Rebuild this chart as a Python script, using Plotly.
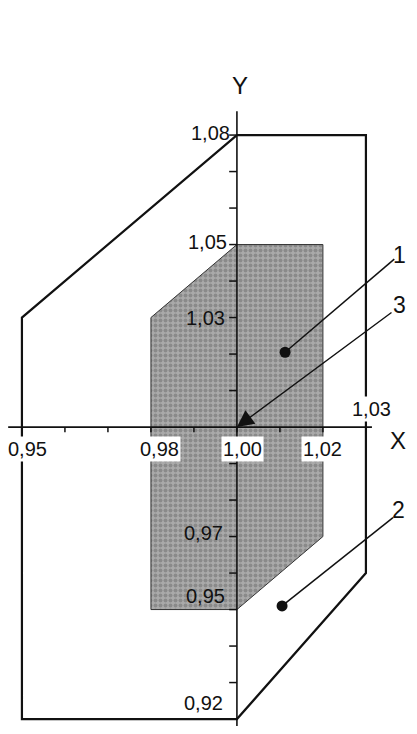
"""Области допусков X/Y: внешний контур (2), заштрихованная зона (1), номинал (3)."""
import plotly.graph_objects as go

# --- данные ---
outer_x = [1.00, 1.03, 1.03, 1.00, 0.95, 0.95, 1.00]
outer_y = [1.08, 1.08, 0.96, 0.92, 0.92, 1.03, 1.08]

inner_x = [1.00, 1.02, 1.02, 1.00, 0.98, 0.98, 1.00]
inner_y = [1.05, 1.05, 0.97, 0.95, 0.95, 1.03, 1.05]

x_ticks = [0.95, 0.96, 0.97, 0.98, 0.99, 1.00, 1.01, 1.02, 1.03]
y_ticks = [0.92, 0.93, 0.94, 0.95, 0.96, 0.97, 0.98, 0.99,
           1.01, 1.02, 1.03, 1.04, 1.05, 1.06, 1.07, 1.08]

x_labels = {0.95: "0,95", 0.98: "0,98", 1.00: "1,00", 1.02: "1,02", 1.03: "1,03"}
y_labels = {1.08: "1,08", 1.05: "1,05", 1.03: "1,03", 0.97: "0,97", 0.95: "0,95", 0.92: "0,92"}

x_axis_span = [0.9468, 1.0314]
y_axis_span = [0.9181, 1.0865]

# выноски: номер, точка-маркер, конец линии, позиция номера (правый край)
callouts = [
    ("1", (1.0112, 1.0205), (1.0366, 1.0460), (1.0397, 1.0471)),
    ("2", (1.0105, 0.9510), (1.0363, 0.9752), (1.0395, 0.9773)),
]
arrow_3 = ("3", (1.00, 1.00), (1.0363, 1.0317), (1.0397, 1.0334))

FONT = "Liberation Sans, Arial, sans-serif"
INK = "#111111"

fig = go.Figure()

# --- заштрихованная область 1 ---
fig.add_trace(go.Scatter(
    x=inner_x, y=inner_y, mode="lines", fill="toself",
    fillcolor="#969696",
    fillpattern=dict(shape=".", fgcolor="#6a6a6a", bgcolor="#aaaaaa", size=5, solidity=0.5),
    line=dict(color="#333333", width=1), hoverinfo="skip", showlegend=False,
))

# --- внешний контур 2 ---
fig.add_trace(go.Scatter(
    x=outer_x, y=outer_y, mode="lines",
    line=dict(color=INK, width=2.2), hoverinfo="skip", showlegend=False,
))

# --- оси ---
fig.add_trace(go.Scatter(x=x_axis_span, y=[1.00, 1.00], mode="lines",
                         line=dict(color=INK, width=1.8), hoverinfo="skip", showlegend=False))
fig.add_trace(go.Scatter(x=[1.00, 1.00], y=y_axis_span, mode="lines",
                         line=dict(color=INK, width=1.6), hoverinfo="skip", showlegend=False))

# засечки: по X вниз, по Y влево
tx, ty = [], []
for v in x_ticks:
    tx += [v, v, None]
    ty += [1.00, 0.9986, None]
for v in y_ticks:
    tx += [1.00, 0.9982, None]
    ty += [v, v, None]
fig.add_trace(go.Scatter(x=tx, y=ty, mode="lines", line=dict(color=INK, width=1.5),
                         hoverinfo="skip", showlegend=False))

# --- подписи делений ---
x_shift = {0.95: 6, 0.98: 9, 1.00: 6, 1.02: 0, 1.03: 6}
for v, t in x_labels.items():
    above = v == 1.03
    fig.add_annotation(x=v, y=1.00, text=t, showarrow=False,
                       xanchor="center", yanchor="middle",
                       xshift=x_shift[v], yshift=18 if above else -22,
                       bgcolor="white", borderpad=1,
                       font=dict(family=FONT, size=20, color=INK))

y_shift = {1.08: 2, 1.05: 3, 1.03: 0, 0.97: 4, 0.95: 14, 0.92: 16}
y_xshift = {1.08: -5, 1.05: -8, 1.03: -10, 0.97: -12, 0.95: -10, 0.92: -12}
for v, t in y_labels.items():
    fig.add_annotation(x=1.00, y=v, text=t, showarrow=False,
                       xanchor="right", yanchor="middle",
                       xshift=y_xshift[v], yshift=y_shift[v],
                       font=dict(family=FONT, size=20, color=INK))

# --- названия осей ---
fig.add_annotation(x=1.0007, y=1.0937, text="Y", showarrow=False,
                   font=dict(family=FONT, size=24, color=INK))
fig.add_annotation(x=1.0399, y=0.9964, text="X", showarrow=False, xanchor="right",
                   font=dict(family=FONT, size=24, color=INK))

# --- выноски 1 и 2 ---
for num, dot, end, pos in callouts:
    fig.add_trace(go.Scatter(x=[dot[0], end[0]], y=[dot[1], end[1]], mode="lines",
                             line=dict(color=INK, width=1.5), hoverinfo="skip", showlegend=False))
    fig.add_trace(go.Scatter(x=[dot[0]], y=[dot[1]], mode="markers",
                             marker=dict(color=INK, size=11), hoverinfo="skip", showlegend=False))
    fig.add_annotation(x=pos[0], y=pos[1], text=num, showarrow=False, xanchor="right",
                       font=dict(family=FONT, size=23, color=INK))

# --- выноска 3 со стрелкой в точку (1,00; 1,00) ---
num, tip, tail, pos = arrow_3
fig.add_annotation(x=tip[0], y=tip[1], ax=tail[0], ay=tail[1], axref="x", ayref="y",
                   text="", showarrow=True, arrowhead=2, arrowsize=2.4,
                   arrowwidth=1.4, arrowcolor=INK, standoff=0)
fig.add_annotation(x=pos[0], y=pos[1], text=num, showarrow=False, xanchor="right",
                   font=dict(family=FONT, size=23, color=INK))

# страница имеет отступ body 8px — подгоняем размер и диапазоны под это
fig.update_layout(
    width=401, height=718, margin=dict(l=0, r=0, t=0, b=0),
    paper_bgcolor="white", plot_bgcolor="white",
    xaxis=dict(range=[0.94676, 1.04002], visible=False, fixedrange=True),
    yaxis=dict(range=[0.91810, 1.11481], visible=False, fixedrange=True),
    showlegend=False,
)

fig.write_html("out.html")
